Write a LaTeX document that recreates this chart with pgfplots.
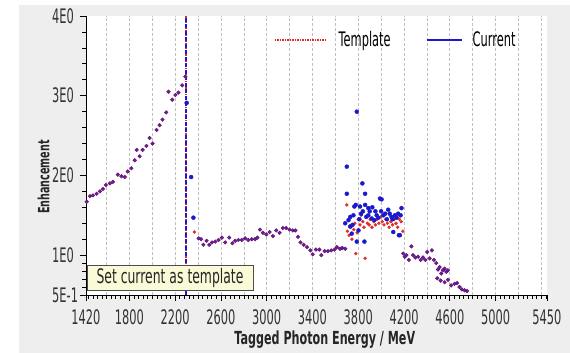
\documentclass[border=0pt]{standalone}
\usepackage{pgfplots}
\pgfplotsset{compat=1.18}
\usepackage{pgfplotstable}
\usepackage{fontspec}
\setmainfont{DejaVu Sans}
\newfontfamily\cf{DejaVu Sans}[FakeStretch=0.57]
\newfontfamily\cfb{DejaVu Sans}[FakeStretch=0.62]
\definecolor{bgGrey}{HTML}{EEEEEE}
\definecolor{curBlue}{HTML}{1A1ACC}
\definecolor{tmpRed}{HTML}{E52A2A}
\definecolor{btnFill}{HTML}{FAFAD8}
\pgfplotsset{
  longleg/.style={legend image code/.code={\draw[##1] (0bp,0bp) -- (50bp,0bp);}},
  shortleg/.style={legend image code/.code={\draw[##1] (0bp,0bp) -- (35bp,0bp);}},
}

\pgfplotstableread{
x y
1426 1.67
1455 1.74
1481 1.75
1513 1.77
1542 1.80
1568 1.83
1594 1.88
1629 1.90
1655 1.92
1698 2.01
1730 1.99
1759 1.98
1785 2.05
1817 2.09
1846 2.19
1863 2.32
1889 2.24
1915 2.32
1948 2.37
1976 2.47
2002 2.40
2037 2.57
2063 2.63
2089 2.70
2121 2.79
2141 3.05
2174 2.95
2202 3.01
2228 3.04
2261 3.13
2289 3.24
2405 1.21
2426 1.20
2446 1.13
2474 1.18
2498 1.13
2521 1.16
2550 1.17
2579 1.19
2608 1.22
2637 1.16
2672 1.22
2700 1.15
2724 1.18
2752 1.19
2782 1.19
2811 1.21
2839 1.19
2869 1.20
2898 1.20
2918 1.22
2941 1.32
2967 1.28
2996 1.26
3025 1.29
3054 1.24
3083 1.31
3112 1.28
3141 1.34
3170 1.34
3199 1.32
3228 1.31
3251 1.31
3274 1.23
3295 1.16
3323 1.13
3352 1.10
3382 1.06
3402 1.01
3430 1.07
3460 1.07
3477 1.00
3506 1.05
3535 1.05
3564 1.06
3593 1.07
3613 1.10
3640 1.08
3660 1.09
3686 1.08
4193 1.02
4207 0.98
4221 1.00
4242 0.94
4264 1.11
4279 1.00
4299 0.97
4323 0.98
4346 0.94
4366 0.97
4386 0.94
4403 1.04
4424 0.96
4444 1.06
4462 0.94
4482 0.90
4497 0.82
4511 0.85
4525 0.77
4540 0.81
4555 0.83
4569 0.79
4584 0.81
4491 0.71
4520 0.68
4555 0.66
4584 0.69
4612 0.62
4642 0.64
4664 0.65
4685 0.60
4705 0.57
4729 0.56
4751 0.55
}\common

\pgfplotstableread{
x y
2300 2.91
2339 1.98
2359 1.47
3700 2.11
3700 1.77
3787 2.80
3836 1.90
3860 1.77
3686 1.40
3715 1.44
3729 1.36
3743 1.27
3758 1.50
3766 1.61
3778 1.63
3787 1.17
3802 1.31
3816 1.61
3825 1.52
3854 1.17
3860 1.63
3888 1.59
3888 1.50
3917 1.46
3923 1.60
3941 1.44
3961 1.50
3990 1.71
4004 1.70
4019 1.50
4062 1.57
4091 1.48
4106 1.29
4120 1.50
4149 1.52
4155 1.25
4164 1.25
4178 1.59
3730 1.48
3750 1.38
3810 1.45
3840 1.55
3870 1.48
3900 1.55
3950 1.55
3975 1.47
4000 1.55
4035 1.52
4050 1.45
4075 1.52
4100 1.45
4135 1.47
4170 1.50
}\curonly

\pgfplotstableread{
x y
2367 1.29
3700 1.63
3705 1.30
3720 1.25
3735 1.35
3745 1.20
3760 1.32
3778 1.02
3770 1.40
3790 1.28
3800 1.45
3815 1.38
3825 1.50
3840 1.42
3860 0.96
3850 1.35
3870 1.48
3880 1.40
3895 1.38
3905 1.45
3920 1.35
3935 1.42
3950 1.38
3965 1.45
3980 1.40
3995 1.48
4010 1.42
4025 1.38
4040 1.45
4055 1.40
4070 1.35
4085 1.42
4100 1.38
4115 1.45
4130 1.40
4145 1.35
4160 1.45
4175 1.42
4190 1.30
}\tmponly

\begin{document}
\begin{tikzpicture}
\useasboundingbox (-86bp,-58bp) rectangle (484bp,295bp);
\fill[white] (-86bp,-58bp) rectangle (484bp,295bp);
\fill[bgGrey] (-67bp,-58bp) rectangle (484bp,290bp);
\begin{axis}[
  at={(0,0)}, anchor=south west,
  width=461bp, height=279bp, scale only axis,
  axis background/.style={fill=white},
  xmin=1420, xmax=5450, ymin=0.5, ymax=4,
  axis lines=left, axis line style={-, black, line width=0.8bp},
  xtick={1420,1800,2200,2600,3000,3400,3800,4200,4600,5000,5450},
  xticklabels={1420,1800,2200,2600,3000,3400,3800,4200,4600,5000,5450},
  minor xtick={1440,1480,...,5440},
  ytick={0.5,1,2,3,4},
  yticklabels={5E-1,1E0,2E0,3E0,4E0},
  minor ytick={0.6,0.7,0.8,0.9,1.2,1.4,1.6,1.8,2.2,2.4,2.6,2.8,3.2,3.4,3.6,3.8},
  tick align=outside,
  major tick length=6bp, minor tick length=3.5bp,
  tick style={black, line width=0.7bp},
  extra x ticks={1600,1800,...,5400},
  extra x tick labels={},
  extra x tick style={grid=major, major grid style={densely dashed, black!25, line width=0.6bp}, major tick length=0pt},
  tick label style={font=\cf\fontsize{20bp}{22bp}\selectfont, text=black!80},
  xticklabel style={yshift=-5bp},
  yticklabel style={anchor=west, inner xsep=0pt, xshift=-28bp},
  xlabel={Tagged Photon Energy / MeV},
  xlabel style={font=\cfb\bfseries\fontsize{18bp}{20bp}\selectfont, text=black!85, at={(axis description cs:0.518,-0.161)}, anchor=center},
  ylabel={Enhancement},
  ylabel style={font=\cfb\bfseries\fontsize{15.5bp}{17bp}\selectfont, text=black!85, at={(axis description cs:-0.092,0.423)}, anchor=center},
  clip=false,
  legend style={at={(axis cs:3037,3.70)}, anchor=west, draw=none, fill=none,
    font=\cf\fontsize{20bp}{22bp}\selectfont, legend columns=2,
    /tikz/every even column/.append style={column sep=33bp}},
]
% vertical marker line
\addplot[tmpRed, densely dotted, line width=1.2bp, forget plot] coordinates {(2295,0.5) (2295,4)};
\addplot[curBlue, dash pattern=on 4bp off 2.5bp, line width=1.6bp, forget plot] coordinates {(2295,0.5) (2295,4)};
% template (red)
\addplot[only marks, mark=*, mark size=1.8bp, tmpRed, forget plot] table {\common};
\addplot[only marks, mark=*, mark size=1.5bp, tmpRed, forget plot] table {\tmponly};
% current (blue)
\addplot[only marks, mark=*, mark size=1.8bp, curBlue, opacity=0.55, forget plot] table {\common};
\addplot[only marks, mark=*, mark size=2bp, curBlue, forget plot] table {\curonly};
\addlegendimage{tmpRed, densely dotted, line width=1.5bp, longleg}
\addlegendentry{\hspace{11bp}Template}
\addlegendimage{curBlue, line width=2bp, shortleg}
\addlegendentry{\hspace{8bp}Current}
\end{axis}
\draw[black!70, line width=0.8bp, fill=btnFill] (1bp,5bp) rectangle (167bp,30bp);
\node[font=\cfb\fontsize{20bp}{22bp}\selectfont, text=black!85] at (84bp,17bp) {Set current as template};
\end{tikzpicture}
\end{document}
